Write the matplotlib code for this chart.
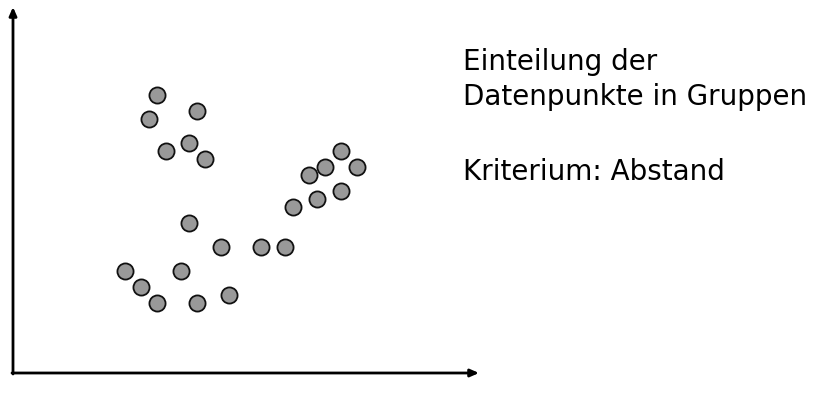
import matplotlib
matplotlib.use("Agg")
import matplotlib.pyplot as plt

# data point positions (arbitrary units, origin at axes corner)
x_vals = [144, 136, 184, 153, 176, 192, 328, 312, 296, 344, 328, 304, 280,
          176, 208, 248, 272, 112, 168, 128, 144, 184, 216]
y_vals = [278, 254, 262, 222, 230, 214, 222, 206, 198, 206, 182, 174, 166,
          150, 126, 126, 126, 102, 102, 86, 70, 70, 78]

text_lines = ["Einteilung der", "Datenpunkte in Gruppen", "", "Kriterium: Abstand"]

fig = plt.figure(figsize=(8.25, 4.05), dpi=100)
ax = fig.add_axes([0, 0, 1, 1])
ax.set_xlim(-13, 812)
ax.set_ylim(-32, 373)
ax.axis("off")

# axes arrows
ax.annotate("", xy=(0, 366), xytext=(0, -1),
            arrowprops=dict(arrowstyle="-|>,head_length=0.5,head_width=0.22",
                            lw=2, color="black", shrinkA=0, shrinkB=0))
ax.annotate("", xy=(466, 0), xytext=(-1, 0),
            arrowprops=dict(arrowstyle="-|>,head_length=0.5,head_width=0.22",
                            lw=2, color="black", shrinkA=0, shrinkB=0))

ax.scatter(x_vals, y_vals, s=135, c="#999999", edgecolors="#111111",
           linewidths=1.3, zorder=3)

baselines = [303, 268, None, 193]
for line, yb in zip(text_lines, baselines):
    if line:
        ax.text(450, yb, line, fontsize=20, family="DejaVu Sans",
                ha="left", va="baseline", color="black")

fig.savefig("out.png", dpi=100)
